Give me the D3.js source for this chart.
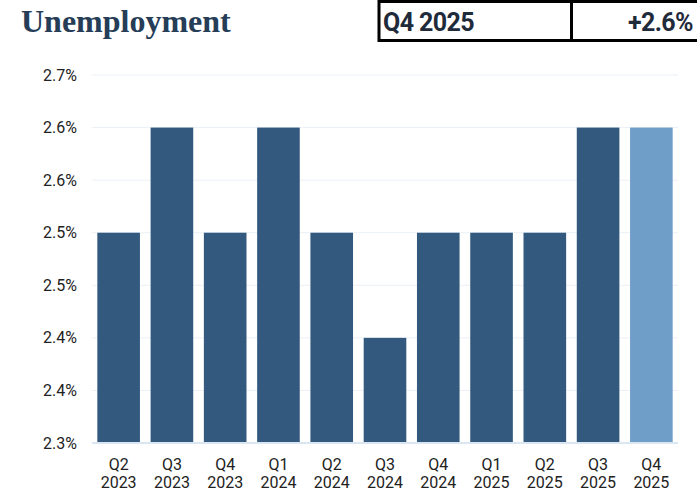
<!DOCTYPE html>
<html><head><meta charset="utf-8">
<script src="https://cdn.jsdelivr.net/npm/d3@7"></script>
<style>body{margin:0;background:#fff;} svg{display:block;}</style>
</head><body>
<svg id="c" width="697" height="492"></svg>
<script>
const quarters = ["Q2","Q3","Q4","Q1","Q2","Q3","Q4","Q1","Q2","Q3","Q4"];
const years = ["2023","2023","2023","2024","2024","2024","2024","2025","2025","2025","2025"];
const values = [2.5,2.6,2.5,2.6,2.5,2.4,2.5,2.5,2.5,2.6,2.6];
const tickValues = [2.30,2.35,2.40,2.45,2.50,2.55,2.60,2.65];
const tickLabels = ["2.3%","2.4%","2.4%","2.5%","2.5%","2.6%","2.6%","2.7%"];
const title = "Unemployment";
const headerPeriod = "Q4 2025";
const headerValue = "+2.6%";

const svg = d3.select("#c");
const cats = quarters.map((q,i)=>q+" "+years[i]);
const x = d3.scaleBand().domain(cats).range([92,678]).paddingInner(0.2).paddingOuter(0.1);
const y = d3.scaleLinear().domain([2.30,2.65]).range([443,75]);

// title
svg.append("text").attr("x",21).attr("y",32).text(title)
  .attr("font-family","Liberation Serif, serif").attr("font-weight","bold")
  .attr("font-size",32).attr("fill","#263d58");

// header boxes
svg.append("rect").attr("x",379).attr("y",1.5).attr("width",330).attr("height",39)
  .attr("fill","#fff").attr("stroke","#000").attr("stroke-width",3);
svg.append("line").attr("x1",571.5).attr("x2",571.5).attr("y1",0).attr("y2",42)
  .attr("stroke","#000").attr("stroke-width",3);
svg.append("text").attr("x",383).attr("y",31).text(headerPeriod)
  .attr("font-family","Roboto, sans-serif").attr("font-weight","bold")
  .attr("font-size",25).attr("fill","#1f2a3a").attr("letter-spacing","-0.6");
svg.append("text").attr("x",693).attr("y",31).attr("text-anchor","end").text(headerValue)
  .attr("font-family","Roboto, sans-serif").attr("font-weight","bold")
  .attr("font-size",25).attr("fill","#1f2a3a").attr("letter-spacing","-0.6");

// grid
const grid = svg.append("g");
grid.selectAll("line").data(tickValues).join("line")
  .attr("x1",92).attr("x2",678).attr("y1",d=>y(d)).attr("y2",d=>y(d))
  .attr("stroke",(d,i)=>i===0?"#dbe6f3":"#eaf0f7").attr("stroke-width",(d,i)=>i===0?2:1);

// y axis
const yAxis = d3.axisLeft(y).tickValues(tickValues).tickFormat((d,i)=>tickLabels[i]).tickSize(0).tickPadding(0);
const ya = svg.append("g").attr("transform","translate(77,0)").call(yAxis);
ya.select(".domain").remove();
ya.selectAll("text").attr("font-family","Roboto, sans-serif").attr("font-size",16).attr("fill","#222");

// bars
svg.append("g").selectAll("rect").data(values).join("rect")
  .attr("x",(d,i)=>x(cats[i])).attr("width",x.bandwidth())
  .attr("y",d=>y(d)).attr("height",d=>y(2.30)-y(d))
  .attr("fill",(d,i)=>i===values.length-1?"#6f9ec8":"#335a7e");

// redraw baseline over bars
svg.append("line").attr("x1",92).attr("x2",678).attr("y1",y(2.30)).attr("y2",y(2.30))
  .attr("stroke","#dbe6f3").attr("stroke-width",2);

// x axis labels
const xl = svg.append("g");
cats.forEach((c,i)=>{
  const cx = x(c)+x.bandwidth()/2;
  const t = xl.append("text").attr("x",cx).attr("text-anchor","middle")
    .attr("font-family","Roboto, sans-serif").attr("font-size",16).attr("fill","#222");
  t.append("tspan").attr("x",cx).attr("y",470).text(quarters[i]);
  t.append("tspan").attr("x",cx).attr("y",488).text(years[i]);
});
</script>
</body></html>
